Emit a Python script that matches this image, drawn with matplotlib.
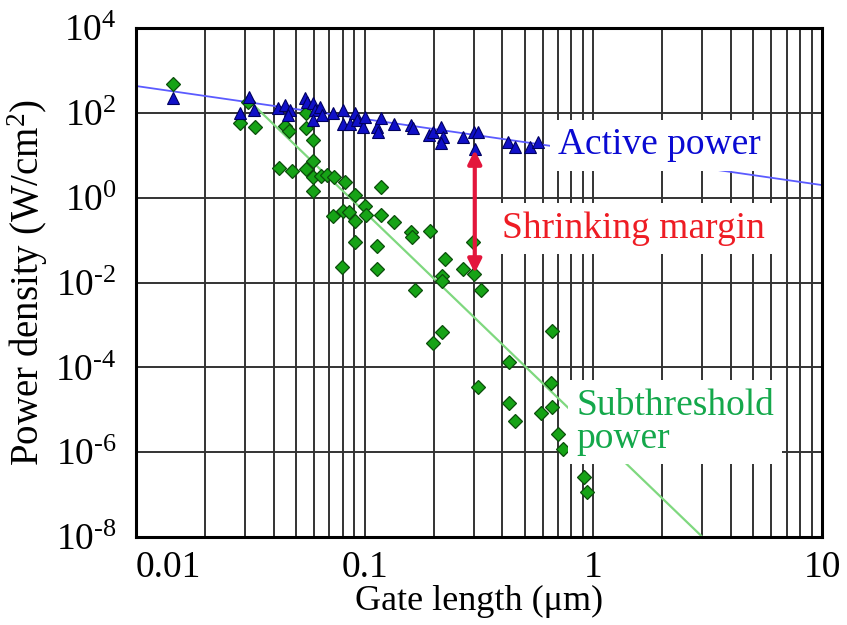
import numpy as np
import matplotlib.pyplot as plt
from matplotlib.ticker import FixedLocator, LogLocator, NullLocator, FuncFormatter

plt.rcParams['font.family'] = 'Liberation Serif'
plt.rcParams['mathtext.fontset'] = 'custom'
plt.rcParams['mathtext.rm'] = 'Liberation Serif'
plt.rcParams['mathtext.it'] = 'Liberation Serif:italic'

# active power (blue triangles), gate length in um, power density in W/cm2
active_x = [0.0145, 0.0285, 0.0313, 0.0328, 0.0419, 0.0448, 0.0471, 0.0463, 0.0548, 0.0558,
            0.0592, 0.0606, 0.0596, 0.0638, 0.0649, 0.0729, 0.0806, 0.0806, 0.0862, 0.0907,
            0.0923, 0.0986, 0.1003, 0.113, 0.1147, 0.1175, 0.1343, 0.160, 0.1632, 0.1917,
            0.199, 0.216, 0.220, 0.215, 0.269, 0.301, 0.313, 0.303, 0.424, 0.454, 0.528, 0.573]
active_y = [220, 100, 232, 116, 128, 153, 116, 89, 220, 183,
            167, 116, 68, 139, 89, 97, 116, 56, 56, 97,
            68, 47, 81, 47, 36, 74, 56, 52, 43, 30,
            36, 47, 27, 19, 27, 36, 36, 14, 21, 16, 16, 21]

# subthreshold power (green diamonds)
sub_x = [0.0145, 0.0309, 0.0285, 0.0331, 0.0448, 0.0467, 0.0554, 0.0554, 0.0594, 0.0594,
         0.0422, 0.0481, 0.0554, 0.0594, 0.0644, 0.0684, 0.0734, 0.0820, 0.0594, 0.1179,
         0.0907, 0.1003, 0.0804, 0.0854, 0.0727, 0.1013, 0.0907, 0.1179, 0.1343, 0.1594,
         0.1610, 0.193, 0.0907, 0.113, 0.0796, 0.113, 0.166, 0.2245, 0.269, 0.2178,
         0.2178, 0.301, 0.3225, 0.659, 0.2178, 0.1989, 0.4275, 0.313, 0.6527, 0.4275,
         0.659, 0.590, 0.454, 0.700, 0.736, 0.909, 0.937, 0.2975]
sub_y = [478, 180, 57, 46, 49, 37, 99, 44, 23, 7.3,
         5.0, 4.2, 4.7, 3.1, 3.2, 3.4, 3.1, 2.3, 1.43, 1.78,
         1.15, 0.63, 0.48, 0.46, 0.37, 0.39, 0.28, 0.39, 0.27, 0.155,
         0.118, 0.163, 0.090, 0.072, 0.023, 0.0207, 0.0066, 0.0356, 0.0207, 0.0142,
         0.0108, 0.0158, 0.0066, 7.1e-4, 6.8e-4, 3.7e-4, 1.33e-4, 3.4e-5, 4.2e-5, 1.43e-5,
         1.15e-5, 8.3e-6, 5.4e-6, 2.66e-6, 1.18e-6, 2.57e-7, 1.14e-7, 0.090]

# trend lines (end points)
active_fit_x = [0.01, 10]
active_fit_y = [429, 1.98]
sub_fit_x = [0.031, 3.0]
sub_fit_y = [200, 1.0e-8]

# shrinking margin arrow at 0.3 um
margin_x = 0.303
margin_top = 13.3
margin_bottom = 0.0167

yticks = [1e-8, 1e-6, 1e-4, 1e-2, 1e0, 1e2, 1e4]
xticks = [0.01, 0.1, 1, 10]
xtick_labels = ['0.01', '0.1', '1', '10']


def ylab(v, pos):
    e = int(round(np.log10(v)))
    s = str(e).replace('-', '\u2010')
    return r'$\mathregular{10^{%s}}$' % s


fig = plt.figure(figsize=(8.47, 6.25), dpi=100)
ax = fig.add_axes([0.1606, 0.1408, 0.8099, 0.8144])
ax.set_xscale('log')
ax.set_yscale('log')
ax.set_xlim(0.01, 10)
ax.set_ylim(1e-8, 1e4)

ax.xaxis.set_major_locator(FixedLocator(xticks))
ax.xaxis.set_minor_locator(LogLocator(base=10, subs=np.arange(2, 10)))
ax.set_xticklabels(xtick_labels)
ax.yaxis.set_major_locator(FixedLocator(yticks))
ax.yaxis.set_minor_locator(NullLocator())
ax.yaxis.set_major_formatter(FuncFormatter(ylab))

ax.grid(True, which='both', axis='x', color='#333333', lw=1.4)
ax.grid(True, which='major', axis='y', color='#333333', lw=1.4)
ax.set_axisbelow(True)
ax.tick_params(which='both', length=0, labelsize=27)
ax.tick_params(axis='x', pad=10)
ax.tick_params(axis='y', pad=14)
ax.get_xticklabels()[0].set_ha('left')
for s in ax.spines.values():
    s.set_linewidth(2.2)

ax.plot(active_fit_x, active_fit_y, color='#5b5bff', lw=1.3, zorder=2)
ax.plot(sub_fit_x, sub_fit_y, color='#7fd87f', lw=1.6, zorder=2)

ax.plot(sub_x, sub_y, 'D', color='#16a316', mec='#0b4d0b', mew=0.9, ms=7, ls='none', zorder=3)
ax.plot(active_x, active_y, '^', color='#1010c8', mec='#000060', mew=0.8, ms=8.5, ls='none', zorder=3)

ax.annotate('', xy=(margin_x, margin_top), xytext=(margin_x, margin_bottom),
            arrowprops=dict(arrowstyle='<|-|>', color='#e3163c', lw=3,
                            mutation_scale=20, shrinkA=0, shrinkB=0), zorder=4)

box = dict(boxstyle='square,pad=0.22', facecolor='white', edgecolor='none')
ax.text(0.70, 17.4, 'Active power', color='#0a0ad2', fontsize=27,
        ha='left', va='center', bbox=box, zorder=5)
ax.text(0.40, 0.19, 'Shrinking margin', color='#ee1c24', fontsize=27,
        ha='left', va='center', bbox=box, zorder=5)
ax.text(0.84, 5.1e-6, 'Subthreshold\npower', color='#14a84b', fontsize=27,
        ha='left', va='center', linespacing=0.95, bbox=box, zorder=5)

ax.set_xlabel('Gate length (\u03bcm)', fontsize=26, labelpad=0)
ax.set_ylabel(r'Power density (W/cm$^{\mathregular{2}}$)', fontsize=28, labelpad=4)

fig.savefig('out.png', dpi=100)
